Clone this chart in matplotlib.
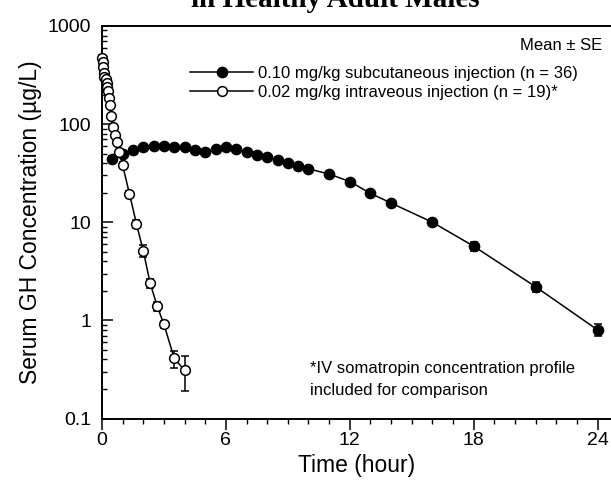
import matplotlib
matplotlib.use('Agg')
import matplotlib.pyplot as plt
from matplotlib.lines import Line2D
from matplotlib.ticker import FixedLocator, LogLocator, NullFormatter

# Subcutaneous 0.10 mg/kg (filled circles)
sc_time = [0.5, 1.0, 1.5, 2.0, 2.5, 3.0, 3.5, 4.0, 4.5, 5.0, 5.5, 6.0, 6.5, 7.0,
           7.5, 8.0, 8.5, 9.0, 9.5, 10.0, 11.0, 12.0, 13.0, 14.0, 16.0, 18.0, 21.0, 24.0]
sc_conc = [44.5, 50, 55, 59, 60, 60, 59, 59, 55, 52.5, 56, 59, 56, 52.5,
           49, 46.5, 43.5, 40, 37.7, 35, 31, 26, 19.7, 15.7, 10.0, 5.7, 2.2, 0.80]
sc_se = [2.5, 2.5, 2.5, 2.5, 2.5, 2.5, 2.5, 2.5, 2.5, 2.5, 2.5, 2.5, 2.5, 2.5,
         2.5, 2.3, 2.2, 2.0, 1.9, 1.8, 1.6, 1.5, 1.2, 0.9, 0.7, 0.55, 0.25, 0.11]

# Intravenous 0.02 mg/kg (open circles)
iv_time = [0.0, 0.03, 0.05, 0.08, 0.12, 0.18, 0.22, 0.25, 0.3, 0.33, 0.39, 0.44,
           0.52, 0.62, 0.73, 0.83, 1.0, 1.33, 1.67, 2.0, 2.33, 2.67, 3.0, 3.5, 4.0]
iv_conc = [470, 430, 380, 330, 300, 290, 262, 237, 216, 185, 158, 120,
           94, 77, 65, 52, 38, 19.5, 9.6, 5.1, 2.4, 1.4, 0.91, 0.41, 0.31]
iv_se = [40, 35, 30, 25, 20, 18, 15, 13, 12, 10, 8, 6,
         5, 4, 3.5, 3, 2.7, 1.5, 0.95, 0.7, 0.26, 0.14, 0.065, 0.08, 0.12]

x_ticks = [0, 6, 12, 18, 24]
y_ticks = [0.1, 1, 10, 100, 1000]
y_tick_labels = ['0.1', '1', '10', '100', '1000']

labels = ['0.10 mg/kg subcutaneous injection (n = 36)',
          '0.02 mg/kg intraveous injection (n = 19)*']

plt.rcParams['font.family'] = ['Liberation Sans', 'DejaVu Sans']

W, H = 611, 487
fig = plt.figure(figsize=(W / 100, H / 100), dpi=100)
left, right, top, bottom = 102, 611, 26, 418.5
ax = fig.add_axes([left / W, 1 - bottom / H, (right - left) / W, (bottom - top) / H])

lw = 1.1
ax.errorbar(sc_time, sc_conc, yerr=sc_se, fmt='o-', color='black', mfc='black',
            mec='black', ms=7.4, lw=lw, elinewidth=1.1, capsize=3, capthick=1.1,
            clip_on=False, zorder=3)
ax.errorbar(iv_time, iv_conc, yerr=iv_se, fmt='o-', color='black', mfc='white',
            mec='black', mew=1.1, ms=7, lw=lw, elinewidth=1.1, capsize=3, capthick=1.1,
            clip_on=False, zorder=4)

ax.set_yscale('log')
ax.set_ylim(0.1, 1000)
ax.set_xlim(0, 24.65)
ax.yaxis.set_major_locator(FixedLocator(y_ticks))
ax.set_yticklabels(y_tick_labels)
ax.yaxis.set_minor_locator(LogLocator(base=10, subs=range(2, 10)))
ax.yaxis.set_minor_formatter(NullFormatter())
ax.set_xticks(x_ticks)
ax.set_xticks(range(0, 25), minor=True)

ax.spines['right'].set_visible(False)
for s in ['left', 'bottom', 'top']:
    ax.spines[s].set_linewidth(1.4)

ax.tick_params(axis='y', which='major', direction='in', length=8, width=1.1, labelsize=14, pad=8)
ax.tick_params(axis='y', which='minor', direction='in', length=3.6, width=1.0)
ax.tick_params(axis='x', which='major', direction='out', length=8, width=1.1, labelsize=14, pad=2)
ax.tick_params(axis='x', which='minor', direction='out', length=3.6, width=1.0)

ax.set_xlabel('Time (hour)', fontsize=16.5, labelpad=3)
ax.set_ylabel('Serum GH Concentration (µg/L)', fontsize=16.5, labelpad=4)

handles = [Line2D([], [], color='black', marker='o', mfc='black', mec='black', ms=7.4, lw=lw),
           Line2D([], [], color='black', marker='o', mfc='white', mec='black', mew=1.1, ms=7, lw=lw)]
leg = ax.legend(handles, labels, loc='upper left', bbox_to_anchor=(190 / W, 1 - 66 / H),
                bbox_transform=fig.transFigure, frameon=False, fontsize=12,
                handlelength=3.8, handletextpad=0.3, labelspacing=0.25,
                borderpad=0, borderaxespad=0, numpoints=1)

fig.text(602 / W, 1 - 45 / H, 'Mean ± SE', ha='right', va='center', fontsize=12)
fig.text(310 / W, 1 - 368 / H, '*IV somatropin concentration profile', ha='left', va='center', fontsize=12)
fig.text(310 / W, 1 - 391 / H, 'included for comparison', ha='left', va='center', fontsize=12)

fig.text(335 / W, 1 - 7 / H, 'in Healthy Adult Males', ha='center', va='baseline',
         fontsize=21, family='Liberation Serif', fontweight='bold')

fig.savefig('out.png', dpi=100)
